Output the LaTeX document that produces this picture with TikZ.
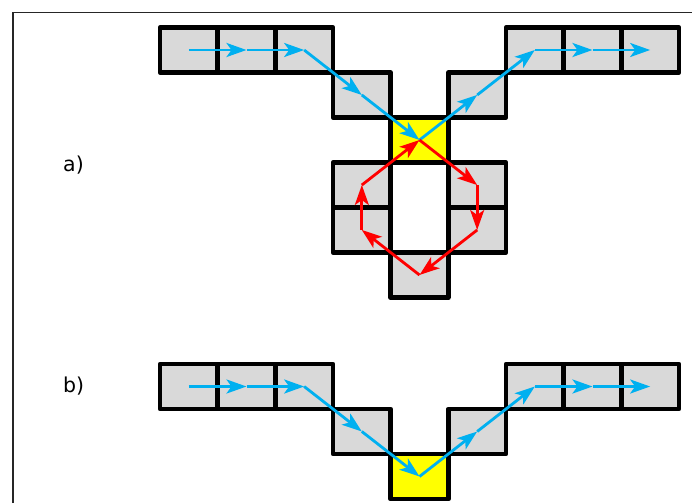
\documentclass[tikz,border=0pt]{standalone}
\usepackage{fontspec}
\newfontfamily\labfont{DejaVu Sans}
\usetikzlibrary{arrows.meta}
\definecolor{cellgray}{HTML}{D9D9D9}
\definecolor{cellyellow}{HTML}{FFFF00}
\definecolor{flowblue}{HTML}{00B0F0}
\definecolor{flowred}{HTML}{FF0000}
\tikzset{
  cell/.style={rectangle, draw=black, line width=4.5pt, line join=round,
    fill=cellgray, minimum width=57.67pt, minimum height=45pt, inner sep=0pt},
  hotcell/.style={cell, fill=cellyellow},
  bluearrow/.style={draw=flowblue, line width=2.8pt,
    -{Stealth[length=20pt, width=14pt, inset=5pt]}},
  redarrow/.style={draw=flowred, line width=2.8pt,
    -{Stealth[length=20pt, width=14pt, inset=5pt]}},
  caption/.style={anchor=base west, inner sep=0pt,
    font=\labfont\fontsize{20.5}{24}\selectfont},
}
\begin{document}
\begin{tikzpicture}[x=1pt, y=-1pt]
  \useasboundingbox (0,0) rectangle (692,503);
  % outer frame (left and top edges)
  \draw[line width=1.4pt, black!85] (13,503) -- (13,12.5) -- (692,12.5);

  % ---- part a) ----
  \node[caption] (la) at (63,171.5) {a)};
  \node[cell]    (A0) at (188.83,50) {};
  \node[cell]    (A1) at (246.50,50) {};
  \node[cell]    (A2) at (304.17,50) {};
  \node[cell]    (A3) at (361.83,95) {};
  \node[hotcell] (A4) at (419.50,140) {};
  \node[cell]    (A5) at (477.17,95) {};
  \node[cell]    (A6) at (534.83,50) {};
  \node[cell]    (A7) at (592.50,50) {};
  \node[cell]    (A8) at (650.17,50) {};
  % ring below the junction cell
  \node[cell] (L1) at (477.17,185) {};
  \node[cell] (L2) at (477.17,230) {};
  \node[cell] (L3) at (419.50,275) {};
  \node[cell] (L4) at (361.83,230) {};
  \node[cell] (L5) at (361.83,185) {};

  \draw[bluearrow] (A0.center) -- (A1.center);
  \draw[bluearrow] (A1.center) -- (A2.center);
  \draw[bluearrow] (A2.center) -- (A3.center);
  \draw[bluearrow] (A3.center) -- (A4.center);
  \draw[bluearrow] (A4.center) -- (A5.center);
  \draw[bluearrow] (A5.center) -- (A6.center);
  \draw[bluearrow] (A6.center) -- (A7.center);
  \draw[bluearrow] (A7.center) -- (A8.center);

  \draw[redarrow] (A4.center) -- (L1.center);
  \draw[redarrow] (L1.center) -- (L2.center);
  \draw[redarrow] (L2.center) -- (L3.center);
  \draw[redarrow] (L3.center) -- (L4.center);
  \draw[redarrow] (L4.center) -- (L5.center);
  \draw[redarrow] (L5.center) -- (A4.center);

  % ---- part b) ----
  \node[caption] (lb) at (63,392.3) {b)};
  \node[cell]    (B0) at (188.83,386.5) {};
  \node[cell]    (B1) at (246.50,386.5) {};
  \node[cell]    (B2) at (304.17,386.5) {};
  \node[cell]    (B3) at (361.83,431.5) {};
  \node[hotcell] (B4) at (419.50,476.5) {};
  \node[cell]    (B5) at (477.17,431.5) {};
  \node[cell]    (B6) at (534.83,386.5) {};
  \node[cell]    (B7) at (592.50,386.5) {};
  \node[cell]    (B8) at (650.17,386.5) {};

  \draw[bluearrow] (B0.center) -- (B1.center);
  \draw[bluearrow] (B1.center) -- (B2.center);
  \draw[bluearrow] (B2.center) -- (B3.center);
  \draw[bluearrow] (B3.center) -- (B4.center);
  \draw[bluearrow] (B4.center) -- (B5.center);
  \draw[bluearrow] (B5.center) -- (B6.center);
  \draw[bluearrow] (B6.center) -- (B7.center);
  \draw[bluearrow] (B7.center) -- (B8.center);
\end{tikzpicture}
\end{document}
